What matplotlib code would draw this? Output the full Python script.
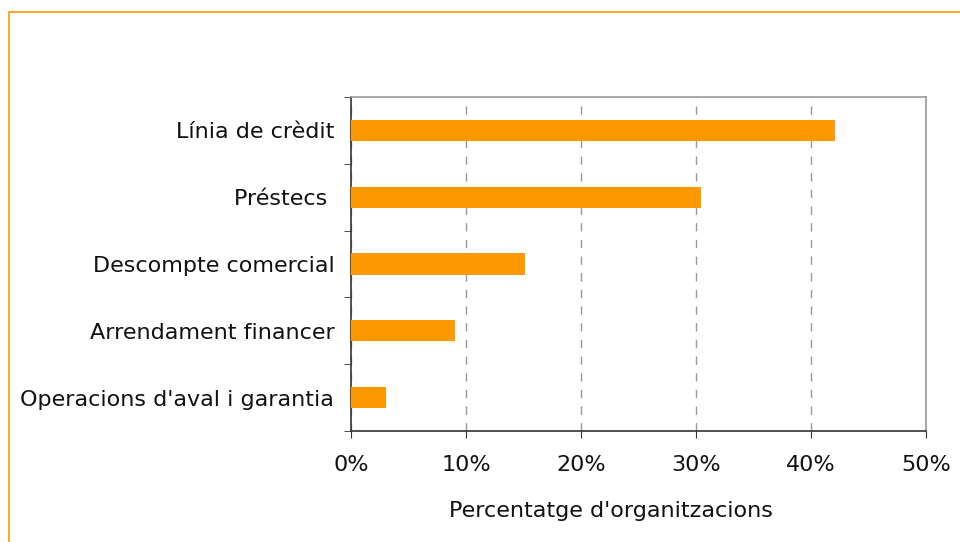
import matplotlib
matplotlib.use("Agg")
import matplotlib.pyplot as plt
from matplotlib.patches import Rectangle

# dades
categories = ["Línia de crèdit", "Préstecs ", "Descompte comercial",
              "Arrendament financer", "Operacions d'aval i garantia"]
values = [42.1, 30.4, 15.1, 9.0, 3.0]
xticks = [0, 10, 20, 30, 40, 50]
xlabel = "Percentatge d'organitzacions"

plt.rcParams['font.family'] = ['DejaVu Sans']
orange = '#FF9900'
fs = 16

fig = plt.figure(figsize=(9.6, 5.42), dpi=100)
ax = fig.add_axes([351 / 960, 1 - 431 / 542, 575 / 960, 334 / 542])

# marc taronja
fig.patches.append(Rectangle((9 / 960, -0.1), 1.2, 1 - 12 / 542 + 0.1,
                             transform=fig.transFigure, fill=False,
                             edgecolor=orange, lw=1.2))

n = len(categories)
pos = list(range(n))[::-1]
ax.barh(pos, values, height=0.32, color=orange, zorder=3)

ax.set_xlim(0, 50)
ax.set_ylim(-0.5, n - 0.5)
ax.set_xticks(xticks)
ax.set_xticklabels([f"{v}%" for v in xticks], fontsize=fs, color='#111111')
ax.set_yticks(pos)
ax.set_yticklabels(categories, fontsize=fs, color='#111111')
ax.tick_params(axis='y', length=0, pad=12)
ax.set_yticks([p - 0.5 for p in range(n + 1)], minor=True)
ax.tick_params(axis='y', which='minor', length=5, direction='out', color='#333333')
ax.tick_params(axis='x', length=5, direction='out', color='#333333', pad=12)

ax.xaxis.grid(True, linestyle=(0, (6, 6)), color='#999999', lw=1, zorder=0)
for s in ['left', 'bottom']:
    ax.spines[s].set_color('#333333')
    ax.spines[s].set_linewidth(1.2)
for s in ['top', 'right']:
    ax.spines[s].set_color('#999999')
    ax.spines[s].set_linewidth(1.2)

ax.set_xlabel(xlabel, fontsize=fs, color='#111111', labelpad=19, x=0.452)

fig.savefig("out.png", dpi=100)
